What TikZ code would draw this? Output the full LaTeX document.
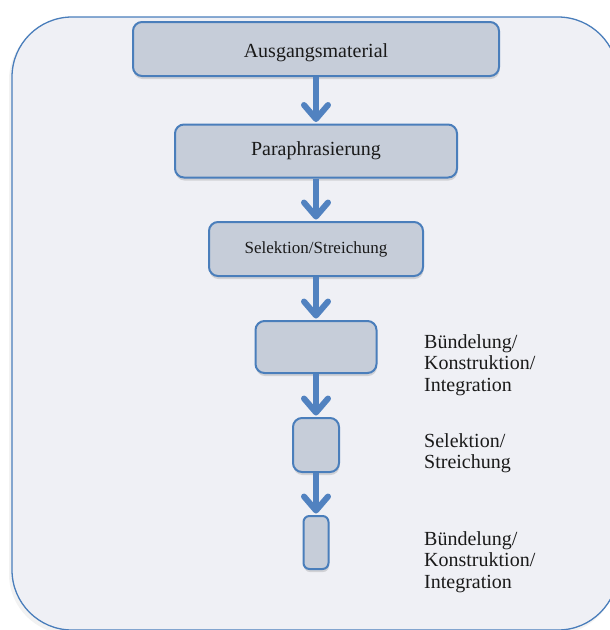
\documentclass[tikz,border=0pt]{standalone}
\usepackage{fontspec}
\setmainfont{Liberation Serif}
\usetikzlibrary{arrows.meta,shadows}
\definecolor{outerfill}{HTML}{EFF0F5}
\definecolor{bluebord}{HTML}{4A7EBB}
\definecolor{boxfill}{HTML}{C6CDD9}
\definecolor{arrowblue}{HTML}{5182C0}
\definecolor{txt}{HTML}{1A1A1A}
\tikzset{
  stepbox/.style={draw=bluebord, line width=2pt, fill=boxfill, rounded corners=9pt,
    inner sep=0pt, text=txt, font=\fontsize{20}{22}\selectfont,
    drop shadow={shadow xshift=0.5pt, shadow yshift=-3pt, opacity=0.22, fill=black!60}},
  flowarrow/.style={draw=arrowblue, line width=6pt, shorten >=1.5pt,
    -{Straight Barb[length=14pt, width=24pt, line cap=round, line join=round]}},
  sidelabel/.style={anchor=north west, inner sep=0pt, align=left, text=txt,
    font=\fontsize{20}{21.5}\selectfont}
}
\begin{document}
\begin{tikzpicture}[x=1pt, y=-1pt]
\useasboundingbox (0,0) rectangle (610,630);
% outer panel
\fill[black!5, rounded corners=60pt] (9,20) rectangle (616,634);
\draw[bluebord, line width=1.3pt, fill=outerfill, rounded corners=60pt] (12,17) rectangle (618,630);
% boxes
\node[stepbox, minimum width=366pt, minimum height=54pt, text depth=0pt] (b1) at (316,49) {\raisebox{-4pt}{Ausgangsmaterial}};
\node[stepbox, minimum width=282pt, minimum height=53pt] (b2) at (316,151) {\raisebox{-3pt}{Paraphrasierung}};
\node[stepbox, minimum width=214pt, minimum height=54pt, font=\fontsize{17}{19}\selectfont] (b3) at (316,249) {\raisebox{-2pt}{Selektion/Streichung}};
\node[stepbox, minimum width=121pt, minimum height=52pt] (b4) at (316,347) {};
\node[stepbox, minimum width=46pt, minimum height=54pt] (b5) at (316,445) {};
\node[stepbox, minimum width=25pt, minimum height=53pt, rounded corners=6pt] (b6) at (316,542.5) {};
% arrows
\draw[flowarrow] (b1.south) -- (b2.north);
\draw[flowarrow] (b2.south) -- (b3.north);
\draw[flowarrow] (b3.south) -- (b4.north);
\draw[flowarrow] (b4.south) -- (b5.north);
\draw[flowarrow] (b5.south) -- (b6.north);
% side labels
\node[sidelabel] (l1) at (424,334) {Bündelung/\\Konstruktion/\\Integration};
\node[sidelabel] (l2) at (424,433) {Selektion/\\Streichung};
\node[sidelabel] (l3) at (424,531) {Bündelung/\\Konstruktion/\\Integration};
\end{tikzpicture}
\end{document}
